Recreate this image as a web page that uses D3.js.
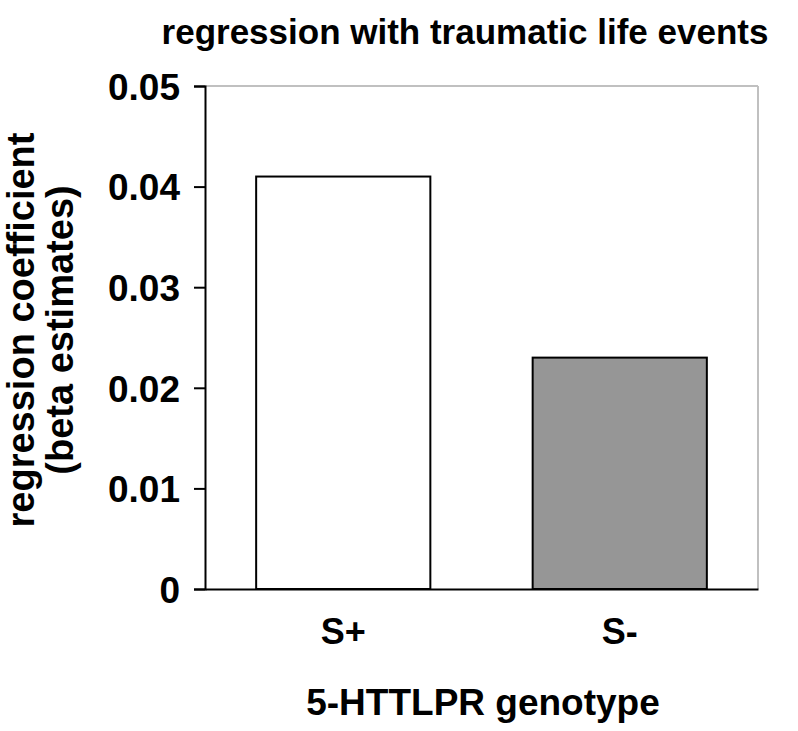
<!DOCTYPE html>
<html><head><meta charset="utf-8">
<script src="https://cdn.jsdelivr.net/npm/d3@7"></script>
<style>body{margin:0;background:#fff;} text{font-family:Arial,"Liberation Sans",sans-serif;font-weight:bold;fill:#000;}</style>
</head><body>
<svg id="c" width="798" height="731"></svg>
<script>
const categories = ["S+", "S-"];
const values = [0.041, 0.023];
const fills = ["#ffffff", "#969696"];
const yTicks = [0, 0.01, 0.02, 0.03, 0.04, 0.05];
const yTickLabels = ["0", "0.01", "0.02", "0.03", "0.04", "0.05"];

const svg = d3.select("#c");
const m = {left: 205, right: 758, top: 86, bottom: 589};
const x = d3.scaleBand().domain(categories).range([m.left, m.right]).paddingInner(0.37).paddingOuter(0.185);
const y = d3.scaleLinear().domain([0, 0.05]).range([m.bottom, m.top]);

// frame top/right grey
svg.append("line").attr("x1", m.left).attr("x2", m.right).attr("y1", m.top).attr("y2", m.top).attr("stroke", "#c0c0c0").attr("stroke-width", 2);
svg.append("line").attr("x1", m.right).attr("x2", m.right).attr("y1", m.top).attr("y2", m.bottom).attr("stroke", "#c0c0c0").attr("stroke-width", 2);

svg.selectAll("rect.bar").data(categories).join("rect").attr("class", "bar")
  .attr("x", d => x(d)).attr("width", x.bandwidth())
  .attr("y", (d, i) => y(values[i])).attr("height", (d, i) => y(0) - y(values[i]))
  .attr("fill", (d, i) => fills[i]).attr("stroke", "#000").attr("stroke-width", 2);

const yAxis = d3.axisLeft(y).tickValues(yTicks).tickFormat((d, i) => yTickLabels[i]).tickSize(11).tickPadding(14);
const ga = svg.append("g").attr("transform", `translate(${m.left},0)`).call(yAxis);
ga.select(".domain").attr("stroke", "#000").attr("stroke-width", 2);
ga.selectAll(".tick line").attr("stroke", "#000").attr("stroke-width", 2);
ga.selectAll(".tick text").style("font-size", "37px").attr("dy", "0.36em");

const xAxis = d3.axisBottom(x).tickSize(0);
const gx = svg.append("g").attr("transform", `translate(0,${m.bottom})`).call(xAxis);
gx.select(".domain").attr("stroke", "#000").attr("stroke-width", 2);
gx.selectAll(".tick text").style("font-size", "36px").attr("dy", 0).attr("y", 55);

svg.append("text").attr("x", 465).attr("y", 44).attr("text-anchor", "middle").style("font-size", "35px").text("regression with traumatic life events");
svg.append("text").attr("x", 483).attr("y", 715).attr("text-anchor", "middle").style("font-size", "37px").text("5-HTTLPR genotype");
const yl = svg.append("text").attr("transform", "translate(0,330) rotate(-90)").attr("text-anchor", "middle").style("font-size", "38px");
yl.append("tspan").attr("x", 0).attr("y", 34).text("regression coefficient");
yl.append("tspan").attr("x", 0).attr("y", 73).text("(beta estimates)");
</script>
</body></html>
